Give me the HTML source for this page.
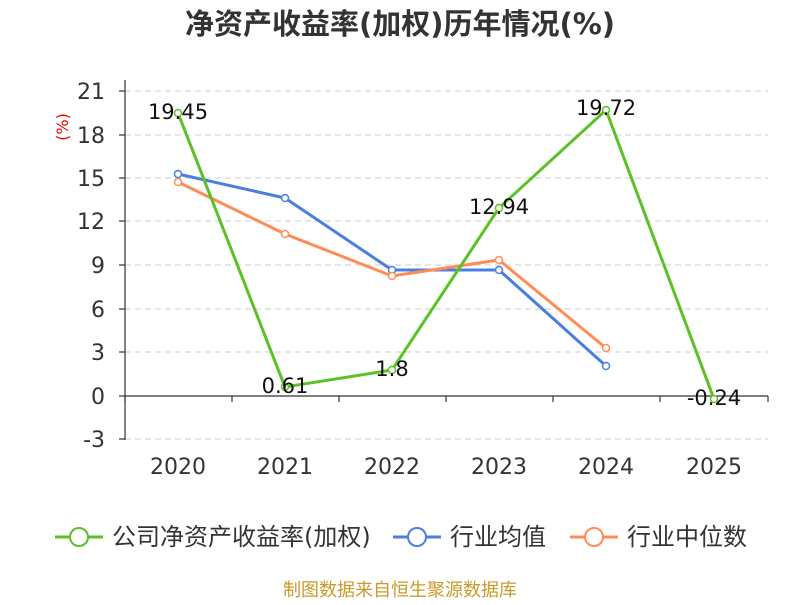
<!DOCTYPE html>
<html><head><meta charset="utf-8"><style>
body{margin:0;background:#fff;}
svg text{font-family:"DejaVu Sans","Noto Sans CJK SC",sans-serif;}
</style></head><body>
<svg width="800" height="600" xmlns="http://www.w3.org/2000/svg">
<rect width="800" height="600" fill="#fff"/>
<text x="400" y="34" text-anchor="middle" font-size="29" font-weight="bold" fill="#333">净资产收益率(加权)历年情况(%)</text>
<text x="68" y="127" font-size="16" fill="#e00" transform="rotate(-90 68 127)" text-anchor="middle">(%)</text>
<g stroke="#ccc" stroke-dasharray="6,4" stroke-width="1">
<line x1="125" x2="768" y1="91" y2="91"/><line x1="125" x2="768" y1="135" y2="135"/>
<line x1="125" x2="768" y1="178" y2="178"/><line x1="125" x2="768" y1="221" y2="221"/>
<line x1="125" x2="768" y1="265" y2="265"/><line x1="125" x2="768" y1="309" y2="309"/>
<line x1="125" x2="768" y1="352" y2="352"/><line x1="125" x2="768" y1="439" y2="439"/>
</g>
<g stroke="#333" stroke-width="1.2">
<line x1="125" x2="125" y1="80" y2="440"/>
<line x1="125" x2="768" y1="396" y2="396"/>
<line x1="119" x2="125" y1="91" y2="91"/><line x1="119" x2="125" y1="135" y2="135"/>
<line x1="119" x2="125" y1="178" y2="178"/><line x1="119" x2="125" y1="221" y2="221"/>
<line x1="119" x2="125" y1="265" y2="265"/><line x1="119" x2="125" y1="309" y2="309"/>
<line x1="119" x2="125" y1="352" y2="352"/><line x1="119" x2="125" y1="396" y2="396"/>
<line x1="119" x2="125" y1="439" y2="439"/>
<line x1="125" x2="125" y1="396" y2="402"/><line x1="232" x2="232" y1="396" y2="402"/>
<line x1="339" x2="339" y1="396" y2="402"/><line x1="446" x2="446" y1="396" y2="402"/>
<line x1="553" x2="553" y1="396" y2="402"/><line x1="660" x2="660" y1="396" y2="402"/>
<line x1="768" x2="768" y1="396" y2="402"/>
</g>
<g font-size="22" fill="#333" text-anchor="end">
<text x="105" y="99">21</text><text x="105" y="143">18</text><text x="105" y="186">15</text>
<text x="105" y="229">12</text><text x="105" y="273">9</text><text x="105" y="317">6</text>
<text x="105" y="360">3</text><text x="105" y="404">0</text><text x="105" y="447">-3</text>
</g>
<g font-size="22" fill="#333" text-anchor="middle">
<text x="178" y="474">2020</text><text x="285" y="474">2021</text><text x="392" y="474">2022</text>
<text x="499" y="474">2023</text><text x="606" y="474">2024</text><text x="714" y="474">2025</text>
</g>
<g fill="none" stroke-width="3">
<polyline stroke="#4a7fe0" points="178,174 285,198 392,270 499,270 606,366"/>
<polyline stroke="#ff8c55" points="178,182 285,234 392,276 499,260 606,348"/>
<polyline stroke="#5cc125" points="178,113 285,387 392,370 499,208 606,110 714,399"/>
</g>
<g fill="#fff" stroke-width="1.5">
<g stroke="#4a7fe0"><circle cx="178" cy="174" r="3.5"/><circle cx="285" cy="198" r="3.5"/><circle cx="392" cy="270" r="3.5"/><circle cx="499" cy="270" r="3.5"/><circle cx="606" cy="366" r="3.5"/></g>
<g stroke="#ff8c55"><circle cx="178" cy="182" r="3.5"/><circle cx="285" cy="234" r="3.5"/><circle cx="392" cy="276" r="3.5"/><circle cx="499" cy="260" r="3.5"/><circle cx="606" cy="348" r="3.5"/></g>
<g stroke="#5cc125"><circle cx="178" cy="113" r="3.5"/><circle cx="285" cy="387" r="3.5"/><circle cx="392" cy="370" r="3.5"/><circle cx="499" cy="208" r="3.5"/><circle cx="606" cy="110" r="3.5"/><circle cx="714" cy="399" r="3.5"/></g>
</g>
<g font-size="21" fill="#111" text-anchor="middle">
<text x="178" y="119">19.45</text><text x="285" y="393">0.61</text><text x="392" y="376">1.8</text>
<text x="499" y="214">12.94</text><text x="606" y="115">19.72</text><text x="714" y="405">-0.24</text>
</g>
<g font-size="24" fill="#333">
<line x1="55" x2="103" y1="537" y2="537" stroke="#5cc125" stroke-width="3"/>
<circle cx="79" cy="537" r="9" fill="#fff" stroke="#5cc125" stroke-width="2"/>
<text x="112" y="545">公司净资产收益率(加权)</text>
<line x1="393" x2="441" y1="537" y2="537" stroke="#4a7fe0" stroke-width="3"/>
<circle cx="417" cy="537" r="9" fill="#fff" stroke="#4a7fe0" stroke-width="2"/>
<text x="450" y="545">行业均值</text>
<line x1="570" x2="618" y1="537" y2="537" stroke="#ff8c55" stroke-width="3"/>
<circle cx="594" cy="537" r="9" fill="#fff" stroke="#ff8c55" stroke-width="2"/>
<text x="627" y="545">行业中位数</text>
</g>
<text x="400" y="596" text-anchor="middle" font-size="18" fill="#c89a2a">制图数据来自恒生聚源数据库</text>
</svg>
</body></html>
